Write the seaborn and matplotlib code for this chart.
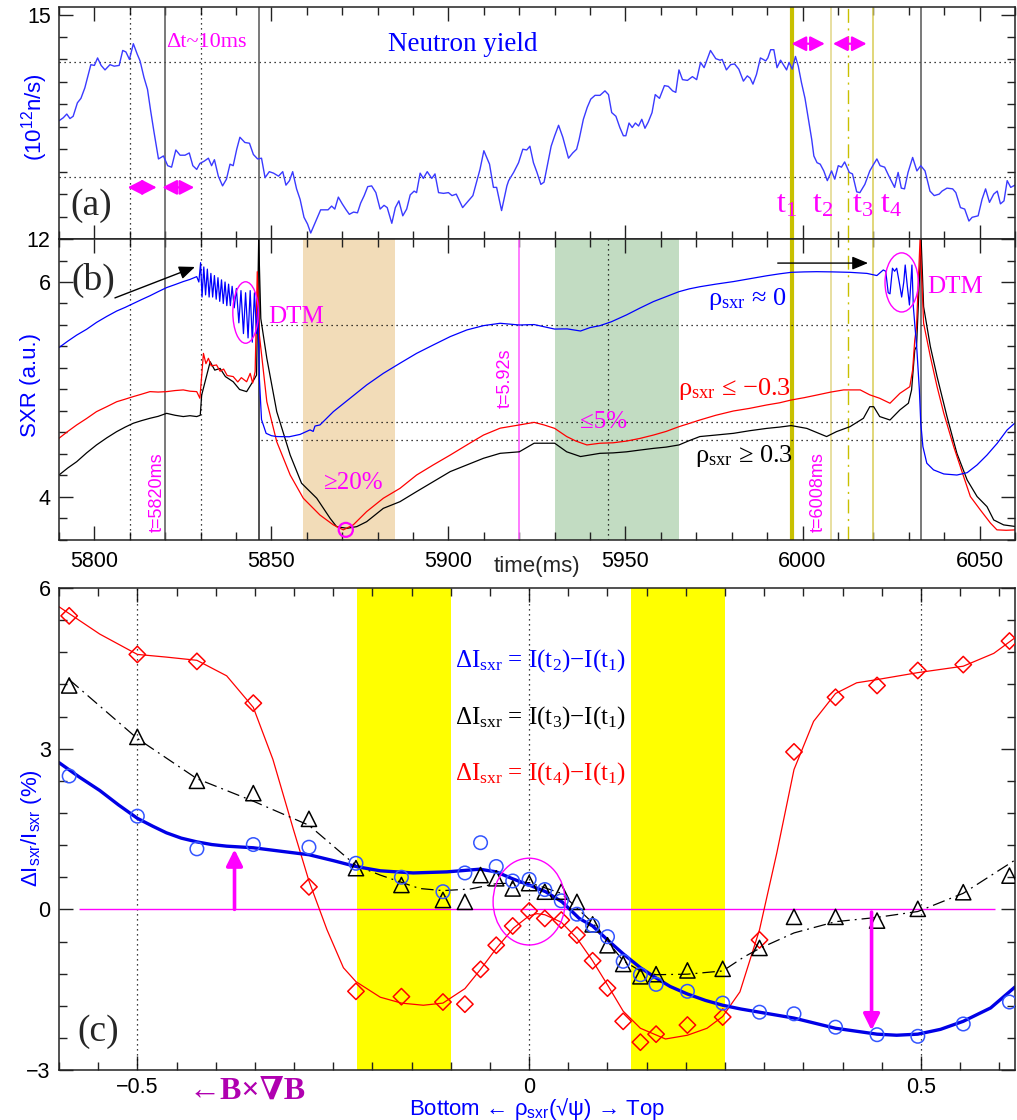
import numpy as np
import matplotlib
matplotlib.use("Agg")
import matplotlib.pyplot as plt
import seaborn as sns
from matplotlib.patches import Ellipse
from matplotlib.ticker import MultipleLocator, FixedLocator, FixedFormatter, NullFormatter

sns.set_theme(style="ticks")
plt.rcParams["font.family"] = ["Liberation Sans", "DejaVu Sans"]
plt.rcParams["axes.unicode_minus"] = True
SERIF = ["Liberation Serif", "DejaVu Serif"]

BLUE = "#0000ff"
NEUT = "#3a3aff"
RED = "#ff0000"
MAG = "#ff00ff"
OLIVE = "#c8c000"
PALE = "#e8dfa0"
OLIVE2 = "#d8cc55"

# ---------------- (a) neutron yield, 10^12 n/s ----------------
neut_t = [5790.0, 5791.2, 5792.2, 5793.1, 5794.0, 5795.2, 5796.2, 5797.3, 5799.0, 5800.0,
          5800.9, 5801.9, 5803.0, 5804.4, 5805.6, 5807.0, 5808.0, 5808.9, 5809.9, 5811.0,
          5812.1, 5812.9, 5814.0, 5815.0, 5815.9, 5816.8, 5818.1, 5819.5, 5820.7, 5821.8,
          5823.0, 5824.2, 5825.6, 5826.8, 5827.8, 5828.9, 5829.8, 5831.0, 5832.2, 5833.1,
          5833.9, 5835.0, 5836.2, 5837.3, 5838.3, 5839.2, 5840.2, 5841.1, 5842.5, 5843.8,
          5844.9, 5846.1, 5847.2, 5848.2, 5849.4, 5850.6, 5852.0, 5853.2, 5854.1, 5855.1,
          5856.0, 5857.1, 5858.1, 5859.2, 5860.2, 5861.1, 5862.0, 5863.0, 5863.9, 5865.1,
          5866.0, 5867.0, 5867.9, 5868.9, 5870.0, 5871.1, 5872.0, 5873.2, 5874.3, 5875.2,
          5876.2, 5877.2, 5878.3, 5879.5, 5880.7, 5881.8, 5882.7, 5884.0, 5885.0, 5886.0,
          5887.1, 5888.2, 5889.2, 5890.3, 5891.0, 5892.0, 5892.9, 5894.0, 5895.3, 5896.2,
          5897.2, 5898.6, 5900.0, 5901.0, 5902.2, 5904.0, 5905.1, 5906.9, 5908.9, 5910.0,
          5911.6, 5912.7, 5913.6, 5915.0, 5916.5, 5917.0, 5918.4, 5919.8, 5921.0, 5922.1,
          5923.0, 5924.0, 5925.0, 5926.1, 5927.0, 5929.0, 5930.0, 5931.1, 5932.3, 5933.9,
          5935.1, 5936.2, 5936.9, 5938.1, 5939.2, 5940.2, 5941.4, 5942.8, 5944.2, 5945.2,
          5946.1, 5947.3, 5948.4, 5949.4, 5950.1, 5951.0, 5951.9, 5952.8, 5953.7, 5954.6,
          5955.5, 5956.4, 5957.5, 5958.4, 5959.6, 5961.0, 5962.1, 5963.3, 5964.2, 5965.1,
          5966.1, 5967.5, 5968.9, 5970.1, 5971.2, 5972.2, 5974.0, 5975.5, 5976.7, 5977.3,
          5978.5, 5979.7, 5980.8, 5982.0, 5983.3, 5984.4, 5985.2, 5986.0, 5987.0, 5988.1,
          5988.9, 5989.6, 5990.2, 5991.0, 5991.9, 5992.8, 5993.8, 5994.6, 5995.5, 5996.2,
          5997.1, 5998.0, 5998.8, 5999.7, 6000.7, 6001.6, 6002.6, 6003.2, 6004.1, 6005.0,
          6006.0, 6007.0, 6008.2, 6009.1, 6010.1, 6011.0, 6011.9, 6013.2, 6014.1, 6015.3,
          6016.2, 6017.6, 6019.0, 6020.1, 6021.0, 6021.9, 6023.2, 6024.6, 6026.0, 6027.0,
          6027.9, 6028.8, 6029.8, 6031.1, 6032.3, 6033.4, 6034.6, 6036.0, 6037.2, 6038.6,
          6039.4, 6040.8, 6042.4, 6043.3, 6044.6, 6045.8, 6047.0, 6047.9, 6049.6, 6050.7,
          6051.7, 6052.8, 6054.0, 6055.0, 6055.9, 6056.9, 6057.8, 6058.8, 6060.0]
neut_y = [13.58, 13.62, 13.67, 13.61, 13.64, 13.82, 13.88, 14.02, 14.33, 14.32,
          14.42, 14.32, 14.26, 14.33, 14.31, 14.32, 14.52, 14.50, 14.40, 14.61,
          14.47, 14.38, 14.16, 14.00, 13.71, 13.44, 13.07, 13.11, 12.98, 12.96,
          13.19, 13.12, 13.12, 13.15, 12.98, 12.93, 13.01, 13.04, 13.08, 12.98,
          13.06, 12.84, 12.71, 12.80, 13.00, 12.98, 13.20, 13.36, 13.29, 13.28,
          13.13, 13.07, 13.08, 12.82, 12.90, 12.88, 12.84, 12.90, 12.72, 12.78,
          12.90, 12.67, 12.53, 12.29, 12.20, 12.08, 12.18, 12.29, 12.39, 12.39,
          12.39, 12.44, 12.40, 12.56, 12.47, 12.39, 12.33, 12.36, 12.35, 12.48,
          12.58, 12.70, 12.71, 12.62, 12.40, 12.45, 12.42, 12.21, 12.42, 12.51,
          12.31, 12.40, 12.59, 12.64, 12.62, 12.88, 12.81, 12.90, 12.81, 12.87,
          12.62, 12.61, 12.62, 12.58, 12.60, 12.42, 12.48, 12.58, 12.93, 13.18,
          13.00, 12.69, 12.69, 12.38, 12.71, 12.78, 12.89, 13.02, 13.20, 13.19,
          13.24, 13.02, 12.89, 12.73, 12.76, 13.24, 13.38, 13.52, 13.36, 13.08,
          13.15, 13.20, 13.33, 13.60, 13.76, 13.87, 13.92, 13.92, 13.98, 13.93,
          13.69, 13.64, 13.49, 13.38, 13.38, 13.55, 13.49, 13.55, 13.51, 13.60,
          13.48, 13.56, 13.69, 13.93, 13.88, 14.05, 14.04, 13.98, 13.96, 14.26,
          14.13, 14.12, 14.17, 14.13, 14.36, 14.29, 14.52, 14.41, 14.39, 14.40,
          14.26, 14.33, 14.34, 14.27, 14.11, 14.18, 14.15, 14.07, 14.20, 14.42,
          14.40, 14.38, 14.42, 14.53, 14.53, 14.29, 14.39, 14.33, 14.26, 14.36,
          14.27, 14.44, 14.31, 14.09, 13.88, 13.62, 13.33, 13.11, 13.02, 13.00,
          12.91, 12.78, 12.91, 12.80, 12.98, 12.96, 13.03, 12.89, 12.87, 12.63,
          12.62, 12.73, 12.91, 13.00, 13.07, 12.98, 12.96, 12.82, 12.69, 12.89,
          12.68, 12.67, 12.89, 13.09, 12.91, 12.98, 12.91, 12.64, 12.58, 12.60,
          12.64, 12.68, 12.67, 12.62, 12.42, 12.40, 12.24, 12.29, 12.31, 12.53,
          12.67, 12.49, 12.60, 12.64, 12.47, 12.51, 12.78, 12.69, 12.72]

# ---------------- (b) SXR traces (arbitrary units, tick-step scale) ----------------
core_t = [5790.0, 5792.5, 5795.0, 5797.8, 5800.6, 5803.5, 5806.3, 5808.7, 5811.0, 5813.3,
          5815.7, 5818.0, 5820.4, 5822.8, 5825.1, 5827.0, 5828.9, 5829.5,
          5830.0, 5830.4, 5830.9, 5831.4, 5831.9, 5832.4, 5832.9, 5833.4, 5833.9, 5834.4,
          5834.9, 5835.4, 5835.9, 5836.4, 5836.9, 5837.4, 5837.9, 5838.4, 5838.9, 5839.5,
          5840.1, 5840.8, 5841.4, 5842.1, 5842.7, 5843.4, 5844.0, 5844.6, 5845.2, 5845.8,
          5846.2,
          5846.6, 5847.2, 5847.7, 5848.5, 5850.0, 5851.5, 5855.0, 5858.1, 5860.9, 5861.8,
          5862.3, 5863.7, 5867.5, 5872.2, 5876.9, 5881.6, 5886.3, 5891.0, 5895.7, 5900.5,
          5905.2, 5909.9, 5914.6, 5920.0, 5924.2, 5930.0, 5933.5, 5937.3, 5940.0, 5942.8,
          5946.0, 5950.3, 5954.0, 5957.9, 5961.5, 5965.1, 5968.0, 5971.0, 5975.5, 5980.5,
          5985.0, 5989.9, 5993.5, 5996.8, 6000.5, 6004.0, 6008.5, 6013.4, 6018.2, 6021.0,
          6022.8, 6023.5, 6024.2, 6024.7, 6025.4, 6026.0, 6026.6, 6027.3, 6028.0, 6028.6,
          6029.0, 6029.6, 6030.2, 6030.6, 6030.9, 6031.3, 6032.3, 6033.0, 6033.4, 6034.0,
          6035.1, 6037.0, 6039.9, 6043.6, 6046.5, 6049.3, 6052.1, 6055.0, 6057.8, 6060.4]
core_v = [8.95, 9.25, 9.53, 9.80, 10.12, 10.40, 10.65, 10.82, 11.00, 11.18,
          11.36, 11.55, 11.74, 11.88, 12.02, 12.12, 12.25, 12.00,
          12.90, 11.30, 12.70, 11.40, 12.60, 11.30, 12.40, 11.30, 12.30, 11.20,
          12.20, 11.10, 12.10, 11.00, 12.00, 10.90, 11.90, 10.90, 11.80, 10.80,
          11.70, 10.10, 11.60, 9.60, 11.50, 9.40, 11.60, 9.20, 11.50, 9.60,
          10.80,
          7.50, 5.60, 5.35, 4.96, 4.85, 4.81, 4.80, 4.91, 5.12, 5.05,
          5.30, 5.35, 5.97, 6.59, 7.21, 7.75, 8.22, 8.68, 9.07, 9.46,
          9.77, 9.97, 10.08, 10.00, 10.02, 9.81, 9.82, 9.72, 9.88, 9.97,
          10.15, 10.47, 10.78, 11.09, 11.32, 11.55, 11.68, 11.78, 11.90, 12.02,
          12.15, 12.29, 12.38, 12.45, 12.47, 12.48, 12.47, 12.45, 12.40, 12.30,
          12.56, 12.50, 11.50, 11.45, 12.64, 12.50, 12.64, 12.00, 11.30, 12.00,
          12.79, 11.80, 10.93, 12.00, 12.79, 10.85, 8.84, 6.98, 5.43, 4.34,
          3.57, 3.26, 3.07, 3.02, 3.13, 3.49, 3.95, 4.50, 5.12, 5.50]

low_t = [5790.0, 5792.5, 5795.0, 5797.8, 5800.6, 5803.5, 5806.3, 5808.7, 5811.0, 5813.3,
         5815.7, 5818.0, 5820.4, 5822.8, 5825.1, 5827.0, 5828.9, 5829.8, 5830.8, 5831.5,
         5832.2, 5833.0, 5834.5, 5835.5, 5836.5, 5837.5, 5839.2, 5840.5, 5841.5, 5843.0,
         5844.0, 5844.7, 5845.4, 5846.0, 5846.6, 5848.7, 5851.5, 5855.3, 5859.0, 5863.7,
         5867.5, 5870.3, 5873.1, 5876.9, 5881.6, 5886.3, 5891.0, 5895.7, 5900.5, 5905.2,
         5909.9, 5914.6, 5920.0, 5924.2, 5927.0, 5930.0, 5933.4, 5936.0, 5939.1, 5942.8,
         5946.5, 5950.3, 5954.0, 5957.9, 5961.5, 5965.1, 5968.0, 5971.0, 5975.5, 5980.5,
         5985.0, 5989.9, 5993.5, 5996.8, 6000.5, 6004.0, 6008.0, 6011.6, 6016.3, 6019.0,
         6021.8, 6024.7, 6027.5, 6030.3, 6031.1, 6031.7, 6032.2, 6032.6, 6033.2, 6034.2,
         6036.1, 6038.0, 6039.9, 6042.7, 6045.5, 6047.4, 6050.2, 6053.1, 6054.9, 6057.5,
         6060.4]
low_v = [4.73, 5.05, 5.35, 5.65, 5.97, 6.20, 6.43, 6.55, 6.67, 6.78,
         6.90, 6.88, 6.90, 6.95, 6.98, 6.92, 6.90, 6.59, 8.68, 8.20,
         8.45, 8.10, 8.14, 7.85, 7.95, 7.65, 7.60, 7.35, 7.55, 7.36,
         7.75, 7.30, 7.83, 12.48, 9.53, 6.43, 4.57, 3.02, 1.94, 1.16,
         0.70, 0.47, 0.70, 1.32, 1.94, 2.40, 3.02, 3.49, 3.95, 4.42,
         4.88, 5.20, 5.35, 5.47, 5.35, 5.19, 4.81, 4.60, 4.42, 4.50,
         4.52, 4.60, 4.72, 4.88, 5.05, 5.27, 5.42, 5.58, 5.80, 6.00,
         6.12, 6.28, 6.38, 6.51, 6.62, 6.74, 6.88, 6.98, 6.98, 6.75,
         6.59, 6.36, 6.82, 7.13, 7.91, 9.30, 9.92, 11.60, 14.00, 10.08,
         8.53, 7.13, 5.89, 4.34, 2.95, 2.02, 1.40, 0.78, 0.47, 0.45,
         0.47]

high_t = [5790.0, 5792.5, 5795.0, 5797.8, 5800.6, 5803.5, 5806.3, 5808.7, 5811.0, 5813.3,
          5815.7, 5818.0, 5820.4, 5822.8, 5825.1, 5827.0, 5828.9, 5829.9, 5830.3, 5832.7,
          5834.0, 5835.5, 5837.0, 5839.2, 5841.0, 5843.0, 5844.5, 5845.8, 5846.4, 5847.0,
          5848.7, 5851.5, 5855.3, 5858.5, 5862.8, 5866.6, 5868.4, 5871.3, 5874.1, 5876.9,
          5881.6, 5886.3, 5891.0, 5895.7, 5900.5, 5905.2, 5909.9, 5914.6, 5920.0, 5924.2,
          5930.0, 5933.4, 5937.3, 5942.8, 5946.5, 5950.3, 5954.0, 5957.9, 5961.5, 5965.1,
          5968.0, 5971.0, 5975.5, 5980.5, 5985.0, 5989.9, 5993.5, 5996.8, 6001.2, 6004.0,
          6006.8, 6009.6, 6013.4, 6017.2, 6019.0, 6020.1, 6021.8, 6024.7, 6027.5, 6029.9,
          6030.8, 6031.7, 6032.2, 6033.5, 6034.2, 6036.1, 6038.0, 6040.8, 6043.6, 6046.5,
          6049.3, 6052.1, 6054.0, 6056.8, 6060.4]
high_v = [3.02, 3.35, 3.64, 4.05, 4.42, 4.75, 5.04, 5.25, 5.43, 5.55,
          5.66, 5.75, 5.89, 5.80, 5.74, 5.78, 5.74, 5.80, 6.74, 8.29,
          7.90, 7.98, 7.60, 7.36, 7.00, 6.90, 7.30, 7.67, 14.00, 10.30,
          8.45, 5.97, 3.95, 2.64, 1.94, 1.00, 0.62, 0.54, 0.62, 0.85,
          1.47, 1.78, 2.25, 2.71, 3.18, 3.49, 3.80, 4.03, 4.10, 4.50,
          4.50, 4.10, 3.88, 4.03, 4.05, 4.10, 4.18, 4.26, 4.32, 4.42,
          4.62, 4.81, 4.88, 4.96, 5.08, 5.19, 5.25, 5.32, 5.19, 5.00,
          4.81, 5.04, 5.27, 5.66, 6.20, 6.20, 5.74, 5.58, 6.05, 6.36,
          6.98, 8.84, 9.00, 14.00, 10.85, 9.00, 7.60, 5.74, 4.03, 2.79,
          2.02, 1.55, 0.93, 0.70, 0.62]

sxr_tick_pos = [2, 12, 14]
sxr_tick_lbl = ["4", "6", "12"]

# ---------------- (c) relative SXR change profiles (%) ----------------
rho = [-0.587, -0.5, -0.424, -0.352, -0.281, -0.221, -0.163, -0.11, -0.082, -0.062,
       -0.042, -0.021, 0.0, 0.02, 0.041, 0.061, 0.081, 0.10, 0.12, 0.142,
       0.162, 0.202, 0.247, 0.294, 0.338, 0.391, 0.444, 0.496, 0.554, 0.613]
d_t2 = [2.49, 1.74, 1.13, 1.21, 1.16, 0.86, 0.60, 0.33, 0.68, 1.245,
        0.80, 0.53, 0.56, 0.37, 0.16, -0.09, -0.30, -0.51, -0.97, -1.22,
        -1.40, -1.53, -1.75, -1.92, -1.95, -2.20, -2.34, -2.37, -2.14, -1.73]
d_t3 = [4.18, 3.22, 2.40, 2.17, 1.69, 0.77, 0.455, 0.175, 0.14, 0.64,
        0.58, 0.39, 0.49, 0.33, 0.33, 0.14, -0.28, -0.67, -1.02, -1.25,
        -1.21, -1.14, -1.11, -0.72, -0.14, -0.14, -0.21, 0.01, 0.32, 0.63]
d_t4 = [5.48, 4.76, 4.63, 3.85, 0.42, -1.53, -1.63, -1.73, -1.77, -1.12,
        -0.67, -0.31, -0.03, -0.17, -0.20, -0.48, -0.96, -1.47, -2.09, -2.48,
        -2.33, -2.16, -2.01, -0.57, 2.94, 3.96, 4.18, 4.46, 4.57, 5.01]

fit2_x = [-0.6, -0.574, -0.548, -0.524, -0.5, -0.48, -0.463, -0.444, -0.424, -0.405,
          -0.386, -0.352, -0.314, -0.281, -0.25, -0.221, -0.19, -0.148, -0.105, -0.063,
          -0.042, -0.021, 0.0, 0.021, 0.042, 0.064, 0.081, 0.1, 0.12, 0.142,
          0.162, 0.18, 0.202, 0.225, 0.247, 0.27, 0.294, 0.338, 0.391, 0.444,
          0.469, 0.496, 0.525, 0.554, 0.589, 0.62]
fit2_y = [2.74, 2.47, 2.22, 1.95, 1.70, 1.55, 1.43, 1.33, 1.26, 1.21,
          1.18, 1.15, 1.08, 1.02, 0.91, 0.80, 0.72, 0.68, 0.70, 0.75,
          0.70, 0.57, 0.455, 0.33, 0.14, -0.17, -0.31, -0.57, -0.83, -1.09,
          -1.28, -1.44, -1.58, -1.70, -1.79, -1.86, -1.92, -2.03, -2.22, -2.33,
          -2.35, -2.33, -2.24, -2.09, -1.84, -1.45]
fit3_x = [-0.587, -0.5, -0.424, -0.352, -0.281, -0.221, -0.19, -0.14, -0.11, -0.075,
          -0.042, 0.0, 0.041, 0.081, 0.12, 0.142, 0.162, 0.202, 0.247, 0.274,
          0.294, 0.338, 0.391, 0.444, 0.496, 0.554, 0.62]
fit3_y = [4.29, 3.19, 2.44, 2.02, 1.57, 0.82, 0.64, 0.39, 0.35, 0.38,
          0.48, 0.50, 0.30, -0.25, -0.96, -1.15, -1.22, -1.21, -1.15, -0.89,
          -0.73, -0.44, -0.23, -0.15, -0.04, 0.30, 0.92]
fit4_x = [-0.6, -0.548, -0.5, -0.463, -0.424, -0.386, -0.352, -0.327, -0.301, -0.281,
          -0.258, -0.237, -0.221, -0.19, -0.163, -0.135, -0.11, -0.082, -0.062, -0.042,
          -0.02, 0.0, 0.01, 0.02, 0.041, 0.061, 0.081, 0.1, 0.12, 0.142,
          0.174, 0.202, 0.227, 0.247, 0.269, 0.294, 0.316, 0.338, 0.363, 0.391,
          0.418, 0.444, 0.496, 0.554, 0.593, 0.62]
fit4_y = [5.65, 5.14, 4.76, 4.71, 4.65, 4.36, 3.77, 2.80, 1.50, 0.53,
          -0.38, -1.09, -1.35, -1.64, -1.75, -1.79, -1.75, -1.48, -1.12, -0.73,
          -0.35, -0.12, -0.08, -0.10, -0.24, -0.54, -0.96, -1.41, -1.90, -2.22,
          -2.42, -2.35, -2.22, -2.00, -1.54, -0.38, 1.05, 2.61, 3.51, 4.03,
          4.23, 4.29, 4.42, 4.54, 4.78, 5.07]

# ---------------- figure ----------------
fig = plt.figure(figsize=(10.17, 11.2), dpi=100)
ax_a = fig.add_axes([0.0580, 0.7866, 0.9400, 0.2071])
ax_b = fig.add_axes([0.0580, 0.5179, 0.9400, 0.2687])
ax_c = fig.add_axes([0.0580, 0.0446, 0.9400, 0.4304])


def frame(ax, xpad=8):
    for s in ax.spines.values():
        s.set_linewidth(1.1)
        s.set_color("#222222")
    ax.tick_params(which="both", direction="in", top=True, right=True,
                   colors="#222222", labelcolor="black", labelsize=15.5)
    ax.tick_params(which="major", length=10, width=1.0)
    ax.tick_params(which="minor", length=5.5, width=1.0)
    ax.tick_params(axis="y", which="major", pad=6)
    ax.tick_params(axis="x", which="major", pad=xpad)
    ax.set_xlabel("")
    ax.set_ylabel("")


dot = (0, (1, 3))
dashdot = (0, (10, 4, 1.5, 4))

# ----- panel (a)
ax = ax_a
sns.lineplot(x=neut_t, y=neut_y, ax=ax, color=NEUT, linewidth=1.0, sort=False, estimator=None)
ax.set_xlim(5790, 6060)
ax.set_ylim(12, 15.1)
for yv in (14.37, 12.83):
    ax.axhline(yv, color="black", ls=dot, lw=0.9, zorder=1)
for xv in (5810, 5830):
    ax.axvline(xv, color="black", ls=dot, lw=0.9, zorder=1)
for xv in (5820, 5846.5, 6033.5):
    ax.axvline(xv, color="#555555", lw=1.1, zorder=1)
ax.axvline(5996.9, color=OLIVE, lw=3.0, zorder=1)
ax.axvline(6008.0, color=PALE, lw=1.4, zorder=1)
ax.axvline(6012.9, color=OLIVE, lw=1.0, ls=dashdot, zorder=1)
ax.axvline(6020.0, color=OLIVE2, lw=1.1, zorder=1)
frame(ax)
ax.xaxis.set_major_locator(MultipleLocator(50))
ax.xaxis.set_minor_locator(MultipleLocator(10))
ax.xaxis.set_major_formatter(NullFormatter())
ax.yaxis.set_major_locator(FixedLocator([15]))
ax.yaxis.set_minor_locator(MultipleLocator(0.3))
ax.yaxis.set_major_formatter(FixedFormatter(["15"]))

arrow_kw = dict(arrowstyle="<|-|>,head_length=0.55,head_width=0.28", color=MAG, lw=1.6,
                mutation_scale=16, shrinkA=0, shrinkB=0)
for (x0, x1, yv) in [(5809.4, 5817.6, 12.69), (5819.2, 5828.2, 12.69),
                     (5996.9, 6006.3, 14.61), (6008.6, 6018.1, 14.61)]:
    ax.annotate("", xy=(x1, yv), xytext=(x0, yv), arrowprops=arrow_kw, zorder=5)

ax.text(5882.9, 14.51, "Neutron yield", color=BLUE, fontsize=19.5, family=SERIF,
        ha="left", va="baseline")
ax.text(5820.3, 14.56, "Δt~10ms", color=MAG, fontsize=16, family=SERIF,
        ha="left", va="baseline")
ax.text(5799, 12.44, "(a)", fontsize=27, family=SERIF, ha="center", va="center")
for tx, lab in zip([5992.4, 6002.6, 6014.0, 6021.9], ["1", "2", "3", "4"]):
    ax.text(tx, 12.36, "t$\\mathregular{_" + lab + "}$", color=MAG, fontsize=23,
            family=SERIF, ha="left", va="baseline")
ax.text(-0.026, 0.526, "(10$\\mathregular{^{12}}$n/s)", transform=ax.transAxes,
        rotation=90, ha="center", va="center", fontsize=16, color=BLUE)

# ----- panel (b)
ax = ax_b
ax.axvspan(5859, 5885, color="#f2dcb8", lw=0, zorder=0)
ax.axvspan(5930, 5965, color="#c2dcc2", lw=0, zorder=0)
for xv in (5810, 5830, 5945):
    ax.axvline(xv, color="black", ls=dot, lw=0.9, zorder=1)
for xv in (5820, 6033.5):
    ax.axvline(xv, color="#555555", lw=1.1, zorder=1)
ax.axvline(5846.5, color="#222222", lw=1.1, zorder=1)
ax.axvline(5920, color="#ff66ff", lw=1.2, zorder=1)
ax.axvline(5996.9, color=OLIVE, lw=3.0, zorder=1)
ax.axvline(6008.0, color=PALE, lw=1.4, zorder=1)
ax.axvline(6012.9, color=OLIVE, lw=1.0, ls=dashdot, zorder=1)
ax.axvline(6020.0, color=OLIVE2, lw=1.1, zorder=1)
for yv in (10.0, 5.47, 4.65):
    ax.hlines(yv, 5847, 6060, color="black", ls=dot, lw=0.9, zorder=1)

sns.lineplot(x=high_t, y=high_v, ax=ax, color="black", linewidth=0.9, sort=False, estimator=None)
sns.lineplot(x=low_t, y=low_v, ax=ax, color=RED, linewidth=0.9, sort=False, estimator=None)
sns.lineplot(x=core_t, y=core_v, ax=ax, color=BLUE, linewidth=0.9, sort=False, estimator=None)
ax.set_xlim(5790, 6060)
ax.set_ylim(0, 14)
frame(ax)
ax.xaxis.set_major_locator(MultipleLocator(50))
ax.xaxis.set_minor_locator(MultipleLocator(10))
ax.yaxis.set_major_locator(FixedLocator(sxr_tick_pos))
ax.yaxis.set_major_formatter(FixedFormatter(sxr_tick_lbl))
ax.yaxis.set_minor_locator(MultipleLocator(1))

ax.add_patch(Ellipse((5842.7, 10.58), 7.2, 2.86, fill=False, ec=MAG, lw=1.0, zorder=6))
ax.add_patch(Ellipse((6028.0, 11.98), 9.4, 2.75, fill=False, ec=MAG, lw=1.0, zorder=6))
ax.add_patch(Ellipse((5871.0, 0.47), 4.0, 0.65, fill=False, ec=MAG, lw=1.6, zorder=6))

ax.annotate("", xy=(5828.4, 12.70), xytext=(5805.8, 11.26),
            arrowprops=dict(arrowstyle="-|>,head_length=0.6,head_width=0.25", color="black",
                            lw=1.0, mutation_scale=16, shrinkA=0, shrinkB=0))
ax.annotate("", xy=(6018.5, 12.88), xytext=(5993.0, 12.88),
            arrowprops=dict(arrowstyle="-|>,head_length=0.6,head_width=0.25", color="black",
                            lw=1.0, mutation_scale=16, shrinkA=0, shrinkB=0))

ax.text(5799.7, 12.05, "(b)", fontsize=27, family=SERIF, ha="center", va="center")
ax.text(5857.0, 10.37, "DTM", color=MAG, fontsize=18, family=SERIF, ha="center", va="center")
ax.text(6043.0, 11.77, "DTM", color=MAG, fontsize=18, family=SERIF, ha="center", va="center")
ax.text(5873.0, 2.65, "≥20%", color=MAG, fontsize=18, family=SERIF, ha="center", va="center")
ax.text(5943.9, 5.49, "≤5%", color=MAG, fontsize=18, family=SERIF, ha="center", va="center")
ax.text(5973.3, 10.93, "ρ$\\mathregular{_{sxr}}$ ≈ 0", color=BLUE, fontsize=19,
        family=SERIF, ha="left", va="baseline")
ax.text(5964.8, 6.74, "ρ$\\mathregular{_{sxr}}$ ≤ −0.3", color=RED, fontsize=19,
        family=SERIF, ha="left", va="baseline")
ax.text(5969.6, 3.63, "ρ$\\mathregular{_{sxr}}$ ≥ 0.3", color="black", fontsize=19,
        family=SERIF, ha="left", va="baseline")
ax.text(5817.7, 2.23, "t=5820ms", color=MAG, fontsize=13, rotation=90, ha="center", va="center")
ax.text(5916.0, 7.53, "t=5.92s", color=MAG, fontsize=13, rotation=90, ha="center", va="center")
ax.text(6004.3, 2.23, "t=6008ms", color=MAG, fontsize=13, rotation=90, ha="center", va="center")
ax.text(0.5, -0.088, "time(ms)", transform=ax.transAxes, ha="center", va="center", fontsize=16)
ax.text(-0.030, 0.515, "SXR (a.u.)", transform=ax.transAxes, rotation=90,
        ha="center", va="center", fontsize=16, color=BLUE)

# ----- panel (c)
ax = ax_c
ax.axvspan(-0.22, -0.10, color="#ffff00", lw=0, zorder=0)
ax.axvspan(0.13, 0.25, color="#ffff00", lw=0, zorder=0)
for xv in (-0.5, 0.0, 0.5):
    ax.axvline(xv, color="black", ls=dot, lw=0.9, zorder=1)
ax.hlines(0, -0.575, 0.595, color=MAG, lw=1.0, zorder=1)

sns.lineplot(x=fit4_x, y=fit4_y, ax=ax, color=RED, linewidth=0.9, sort=False, estimator=None)
sns.lineplot(x=fit3_x, y=fit3_y, ax=ax, color="black", linewidth=0.9, sort=False,
             estimator=None, linestyle=dashdot)
sns.lineplot(x=fit2_x, y=fit2_y, ax=ax, color="#0000e6", linewidth=2.4, sort=False, estimator=None)

sns.scatterplot(x=rho, y=d_t4, ax=ax, marker="D", s=70, facecolor="none",
                edgecolor=RED, linewidth=1.1, zorder=4)
sns.scatterplot(x=rho, y=d_t3, ax=ax, marker="^", s=120, facecolor="none",
                edgecolor="black", linewidth=1.1, zorder=4)
sns.scatterplot(x=rho, y=d_t2, ax=ax, marker="o", s=95, facecolor="none",
                edgecolor="#3355ff", linewidth=1.1, zorder=4)

ax.add_patch(Ellipse((0.0, 0.145), 0.092, 1.62, fill=False, ec=MAG, lw=1.0, zorder=6))
up_kw = dict(arrowstyle="-|>,head_length=0.7,head_width=0.35", color=MAG, lw=2.6,
             mutation_scale=14, shrinkA=0, shrinkB=0)
ax.annotate("", xy=(-0.376, 1.12), xytext=(-0.376, 0.0), arrowprops=up_kw, zorder=6)
ax.annotate("", xy=(0.437, -2.26), xytext=(0.437, -0.05), arrowprops=up_kw, zorder=6)

ax.set_xlim(-0.6, 0.62)
ax.set_ylim(-3, 6)
frame(ax, xpad=5)
ax.xaxis.set_major_locator(FixedLocator([-0.5, 0.0, 0.5]))
ax.xaxis.set_major_formatter(FixedFormatter(["−0.5", "0", "0.5"]))
ax.xaxis.set_minor_locator(MultipleLocator(0.05))
ax.yaxis.set_major_locator(FixedLocator([-3, 0, 3, 6]))
ax.yaxis.set_major_formatter(FixedFormatter(["−3", "0", "3", "6"]))
ax.yaxis.set_minor_locator(MultipleLocator(0.6))

legend_lines = [("2", BLUE, 4.53), ("3", "black", 3.47), ("4", RED, 2.42)]
for idx, col, yb in legend_lines:
    ax.text(-0.094, yb,
            "ΔI$\\mathregular{_{sxr}}$ = I(t$\\mathregular{_" + idx + "}$)−I(t$\\mathregular{_1}$)",
            color=col, fontsize=18, family=SERIF, ha="left", va="baseline")
ax.text(-0.55, -2.29, "(c)", fontsize=27, family=SERIF, ha="center", va="center")
ax.text(0.197, -0.0436, "←B×∇B", transform=ax.transAxes, color="#b000b0", fontsize=23,
        fontweight="bold", family=SERIF, ha="center", va="center")
ax.text(0.5, -0.081, "Bottom ← ρ$\\mathregular{_{sxr}}$(√ψ) → Top", transform=ax.transAxes,
        ha="center", va="center", fontsize=16, color=BLUE)
ax.text(-0.029, 0.502, "ΔI$\\mathregular{_{sxr}}$/I$\\mathregular{_{sxr}}$ (%)",
        transform=ax.transAxes, rotation=90, ha="center", va="center", fontsize=16, color=BLUE)

fig.savefig("out.png", dpi=100)
